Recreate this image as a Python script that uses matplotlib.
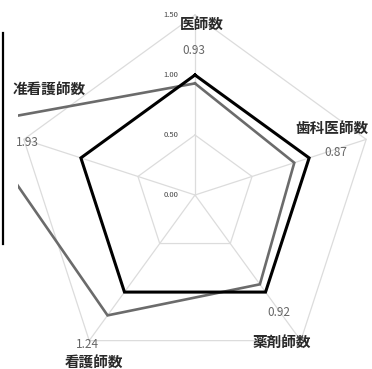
import numpy as np
import matplotlib
matplotlib.use("Agg")
import matplotlib.pyplot as plt
from matplotlib.patches import Rectangle

plt.rcParams['font.family'] = ['Noto Sans CJK JP', 'DejaVu Sans']

categories = ["医師数", "歯科医師数", "薬剤師数", "看護師数", "准看護師数"]
values = [0.93, 0.87, 0.92, 1.24, 1.93]
reference = [1.00, 1.00, 1.00, 1.00, 1.00]
ring_levels = [0.00, 0.50, 1.00, 1.50]
ring_labels = ["0.00", "0.50", "1.00", "1.50"]
value_labels = ["0.93", "0.87", "0.92", "1.24", "1.93"]

W, H = 372, 369
fig = plt.figure(figsize=(W / 100, H / 100), dpi=100)
ax = fig.add_axes([0, 0, 1, 1])
cx, cy, scale = 195, 195, 120.0
ax.set_xlim(-cx / scale, (W - cx) / scale)
ax.set_ylim(-(H - cy) / scale, cy / scale)
ax.axis('off')

n = len(categories)
angles = np.deg2rad(90 - 72 * np.arange(n))


def poly(r):
    r = np.asarray(r, dtype=float)
    x = r * np.cos(angles)
    y = r * np.sin(angles)
    return np.append(x, x[0]), np.append(y, y[0])


grid_c = '#dcdcdc'
rmax = ring_levels[-1]
for lv in ring_levels[1:]:
    x, y = poly([lv] * n)
    ax.plot(x, y, color=grid_c, lw=0.9, zorder=1)
for a in angles:
    ax.plot([0, rmax * np.cos(a)], [0, rmax * np.sin(a)], color=grid_c, lw=0.9, zorder=1)

# tick labels
for lv, lab in zip(ring_levels, ring_labels):
    ax.text(-0.14, lv, lab, ha='right', va='center', fontsize=5.5, color='#444444', zorder=5)

# data lines
x, y = poly(values)
gl, = ax.plot(x, y, color='#6b6b6b', lw=1.9, zorder=3, solid_joinstyle='miter')
clip = Rectangle((18 / W, 0), 1, 1, transform=fig.transFigure, facecolor='none', edgecolor='none')
fig.add_artist(clip)
gl.set_clip_path(clip)

x, y = poly(reference)
ax.plot(x, y, color='black', lw=2.2, zorder=4, solid_joinstyle='miter')

# category labels (pixel positions)
cat_pos = [(202, 24), (332, 128), (282, 342), (94, 362), (49, 89)]
val_pos = [(194, 50), (336, 152), (279, 313), (87, 344), (27, 142)]


def px(p):
    return (p[0] - cx) / scale, (cy - p[1]) / scale


for lab, p in zip(categories, cat_pos):
    ax.text(*px(p), lab, ha='center', va='center', fontsize=10.5, color='#2a2a2a',
            fontweight='bold', zorder=6)
for lab, p in zip(value_labels, val_pos):
    ax.text(*px(p), lab, ha='center', va='center', fontsize=8.5, color='#666666', zorder=6)

# left frame edge
fig.add_artist(plt.Line2D([2.5 / W, 2.5 / W], [1 - 33 / H, 1 - 244 / H],
                          transform=fig.transFigure, color='black', lw=1.6))

fig.savefig('out.png', dpi=100)
